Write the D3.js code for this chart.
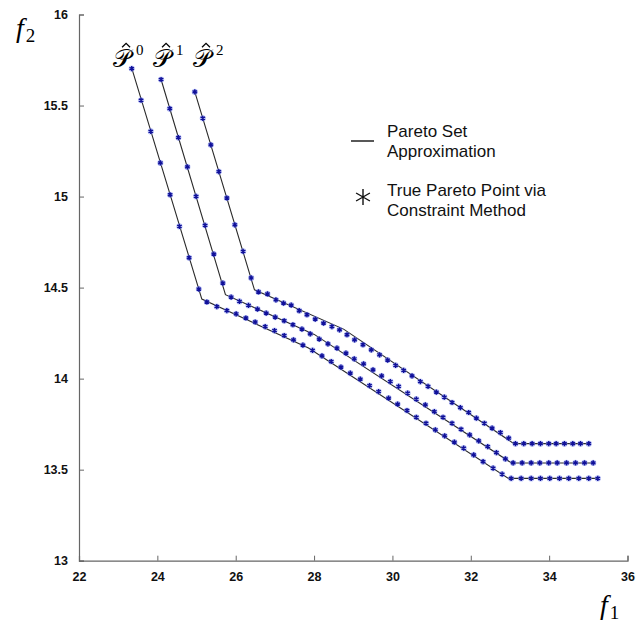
<!DOCTYPE html>
<html>
<head>
<meta charset="utf-8">
<script src="https://cdn.jsdelivr.net/npm/d3@7"></script>
<style>
  body { margin: 0; background: #fff; }
  svg { display: block; }
</style>
</head>
<body>
<div id="chart"></div>
<script>
// Axis ticks
const xTicks = [22, 24, 26, 28, 30, 32, 34, 36];
const yTicks = [13, 13.5, 14, 14.5, 15, 15.5, 16];

// Pareto set approximations (piecewise linear)
const p0Line = [[23.35, 15.703], [25.135, 14.437], [27.858, 14.168], [32.961, 13.452], [35.26, 13.452]];
const p1Line = [[24.095, 15.643], [25.738, 14.461], [28.004, 14.243], [33.037, 13.537], [35.14, 13.537]];
const p2Line = [[24.956, 15.575], [26.479, 14.488], [28.753, 14.272], [33.101, 13.643], [35.03, 13.643]];

// True Pareto points via constraint method
const p0Points = [
  [23.346, 15.703], [23.584, 15.529], [23.832, 15.358], [24.077, 15.185], [24.325, 15.010],
  [24.563, 14.836], [24.810, 14.664], [25.058, 14.492],
  [25.263, 14.421], [25.518, 14.396], [25.774, 14.374], [26.011, 14.356], [26.259, 14.333],
  [26.497, 14.311], [26.752, 14.286], [26.990, 14.264], [27.238, 14.237], [27.475, 14.213],
  [27.715, 14.184],
  [27.961, 14.155], [28.201, 14.125], [28.438, 14.094], [28.686, 14.063], [28.924, 14.030],
  [29.179, 13.997], [29.417, 13.962], [29.647, 13.929], [29.902, 13.893], [30.132, 13.860],
  [30.372, 13.825], [30.610, 13.788], [30.858, 13.755], [31.096, 13.719], [31.333, 13.686],
  [31.581, 13.651], [31.819, 13.618], [32.074, 13.581], [32.314, 13.544], [32.570, 13.508],
  [32.800, 13.475],
  [33.030, 13.452], [33.285, 13.452], [33.541, 13.452], [33.778, 13.452], [34.016, 13.452],
  [34.264, 13.452], [34.501, 13.452], [34.757, 13.452], [35.012, 13.452], [35.242, 13.452]
];
const p1Points = [
  [24.095, 15.643], [24.317, 15.483], [24.537, 15.324], [24.767, 15.163], [24.989, 15.001],
  [25.219, 14.842], [25.441, 14.684], [25.671, 14.525],
  [25.883, 14.448], [26.096, 14.424], [26.326, 14.402], [26.555, 14.382], [26.778, 14.360],
  [27.008, 14.338], [27.238, 14.318], [27.460, 14.296], [27.690, 14.272], [27.902, 14.246],
  [28.132, 14.217], [28.354, 14.191], [28.584, 14.168], [28.814, 14.140], [29.026, 14.109],
  [29.264, 14.081], [29.504, 14.048], [29.724, 14.015], [29.946, 13.984], [30.158, 13.957],
  [30.388, 13.920], [30.610, 13.887], [30.840, 13.856], [31.070, 13.819], [31.292, 13.788],
  [31.522, 13.755], [31.752, 13.722], [31.972, 13.691], [32.202, 13.658], [32.432, 13.627],
  [32.654, 13.594], [32.884, 13.559],
  [33.081, 13.537], [33.311, 13.537], [33.541, 13.537], [33.761, 13.537], [33.990, 13.537],
  [34.205, 13.537], [34.443, 13.537], [34.673, 13.537], [34.903, 13.537], [35.125, 13.537]
];
const p2Points = [
  [24.956, 15.575], [25.160, 15.430], [25.365, 15.284], [25.569, 15.137], [25.774, 14.992],
  [25.978, 14.845], [26.190, 14.699], [26.394, 14.553],
  [26.581, 14.476], [26.811, 14.465], [27.026, 14.433], [27.220, 14.415], [27.416, 14.404],
  [27.621, 14.373], [27.818, 14.351], [28.030, 14.327], [28.242, 14.305], [28.456, 14.286],
  [28.650, 14.268],
  [28.840, 14.241], [29.034, 14.213], [29.248, 14.186], [29.460, 14.158], [29.672, 14.131],
  [29.877, 14.102], [30.081, 14.073], [30.286, 14.045], [30.500, 14.015], [30.712, 13.984],
  [30.909, 13.957], [31.121, 13.926], [31.325, 13.898], [31.522, 13.869], [31.734, 13.841],
  [31.946, 13.814], [32.143, 13.783], [32.347, 13.755], [32.544, 13.728], [32.756, 13.704],
  [32.968, 13.673],
  [33.140, 13.643], [33.352, 13.643], [33.566, 13.643], [33.778, 13.643], [33.990, 13.643],
  [34.179, 13.643], [34.391, 13.643], [34.603, 13.643], [34.800, 13.643], [35.012, 13.643]
];

const seriesNames = ['0', '1', '2'];
const seriesLabelPos = [[22.87, 15.71], [23.89, 15.71], [24.91, 15.71]];

const width = 639, height = 627;

const svg = d3.select('#chart').append('svg')
  .attr('width', width)
  .attr('height', height);

const x = d3.scaleLinear().domain([22, 36]).range([79, 627.5]);
const y = d3.scaleLinear().domain([13, 16]).range([560.7, 14.5]);

// Axes
const axisColor = '#666';
const xAxis = d3.axisBottom(x).tickValues(xTicks).tickSize(-5).tickPadding(16)
  .tickFormat(d3.format('d'));
const yAxis = d3.axisLeft(y).tickValues(yTicks).tickSize(-5).tickPadding(11)
  .tickFormat(d => String(d));

const gx = svg.append('g').attr('transform', `translate(0, ${y(13)})`).call(xAxis);
const gy = svg.append('g').attr('transform', `translate(${x(22)}, 0)`).call(yAxis);

[gx, gy].forEach(g => {
  g.select('.domain').attr('stroke', axisColor).attr('stroke-width', 1.2);
  g.selectAll('.tick line').attr('stroke', axisColor).attr('stroke-width', 1);
  g.selectAll('.tick text')
    .attr('fill', '#111')
    .style('font-family', '"Liberation Sans", Arial, sans-serif')
    .style('font-weight', 'bold')
    .style('font-size', '12.5px');
});
gx.selectAll('.tick text').attr('dy', '0.35em');

// Pareto set lines
const line = d3.line().x(d => x(d[0])).y(d => y(d[1]));
[p0Line, p1Line, p2Line].forEach(data => {
  svg.append('path')
    .datum(data)
    .attr('d', line)
    .attr('fill', 'none')
    .attr('stroke', '#2a2a2a')
    .attr('stroke-width', 1.1);
});

// Asterisk path, centred on 0,0
function asterisk(r) {
  const p = d3.path();
  [90, 30, 150].forEach(a => {
    const t = a * Math.PI / 180;
    p.moveTo(-r * Math.cos(t), -r * Math.sin(t));
    p.lineTo(r * Math.cos(t), r * Math.sin(t));
  });
  return p.toString();
}

const markerPath = asterisk(2.6);
[p0Points, p1Points, p2Points].forEach(data => {
  const g = svg.append('g');
  g.selectAll('circle')
    .data(data)
    .join('circle')
    .attr('cx', d => x(d[0]))
    .attr('cy', d => y(d[1]))
    .attr('r', 3.1)
    .attr('fill', '#8e9cf2')
    .attr('opacity', 0.55);
  g.selectAll('path')
    .data(data)
    .join('path')
    .attr('transform', d => `translate(${x(d[0])}, ${y(d[1])})`)
    .attr('d', markerPath)
    .attr('fill', 'none')
    .attr('stroke', '#10109a')
    .attr('stroke-width', 1.4);
});

// Series labels: P-hat with superscript, sized from the glyph's box
const mathFont = '"DejaVu Serif", "Liberation Serif", serif';
seriesNames.forEach((s, i) => {
  const px = x(seriesLabelPos[i][0]);
  const py = y(seriesLabelPos[i][1]);
  const p = svg.append('text')
    .attr('x', px)
    .attr('y', py)
    .style('font-family', mathFont)
    .style('font-size', '22px')
    .attr('fill', '#000')
    .text('\u{1D4AB}');
  let bb = p.node().getBBox();
  // scale so the glyph is about 22px wide
  const fs = Math.max(14, Math.min(34, 22 * 22 / (bb.width || 22)));
  p.style('font-size', fs + 'px');
  bb = p.node().getBBox();
  p.attr('x', px + (px - bb.x));
  bb = p.node().getBBox();
  // hat over the bowl of the P
  svg.append('path')
    .attr('d', `M${bb.x + 9},${py - 20} L${bb.x + 13},${py - 24} L${bb.x + 17},${py - 20}`)
    .attr('fill', 'none')
    .attr('stroke', '#000')
    .attr('stroke-width', 1.3);
  svg.append('text')
    .attr('x', px + 23)
    .attr('y', py - 12)
    .style('font-family', '"Liberation Serif", serif')
    .style('font-size', '15px')
    .attr('fill', '#000')
    .text(s);
});

// Axis titles
function axisTitle(tx, ty, sub) {
  const t = svg.append('text')
    .attr('x', tx)
    .attr('y', ty)
    .style('font-family', '"Liberation Serif", serif')
    .style('font-size', '28px')
    .attr('fill', '#000');
  t.append('tspan').style('font-style', 'italic').text('f');
  t.append('tspan').attr('dx', 2).attr('dy', 5).style('font-size', '19px').text(sub);
}
axisTitle(16, 37, '2');
axisTitle(600, 614, '1');

// Legend
const legendFont = '"Liberation Sans", Arial, sans-serif';
svg.append('line')
  .attr('x1', 351).attr('x2', 374)
  .attr('y1', 141).attr('y2', 141)
  .attr('stroke', '#111').attr('stroke-width', 1.4);
svg.append('path')
  .attr('transform', 'translate(363, 197)')
  .attr('d', asterisk(8))
  .attr('fill', 'none')
  .attr('stroke', '#111')
  .attr('stroke-width', 1.4);

const legendLines = [
  ['Pareto Set', 137], ['Approximation', 157],
  ['True Pareto Point via', 196], ['Constraint Method', 216]
];
legendLines.forEach(([txt, ly]) => {
  svg.append('text')
    .attr('x', 387)
    .attr('y', ly)
    .style('font-family', legendFont)
    .style('font-size', '17px')
    .attr('fill', '#111')
    .text(txt);
});
</script>
</body>
</html>
